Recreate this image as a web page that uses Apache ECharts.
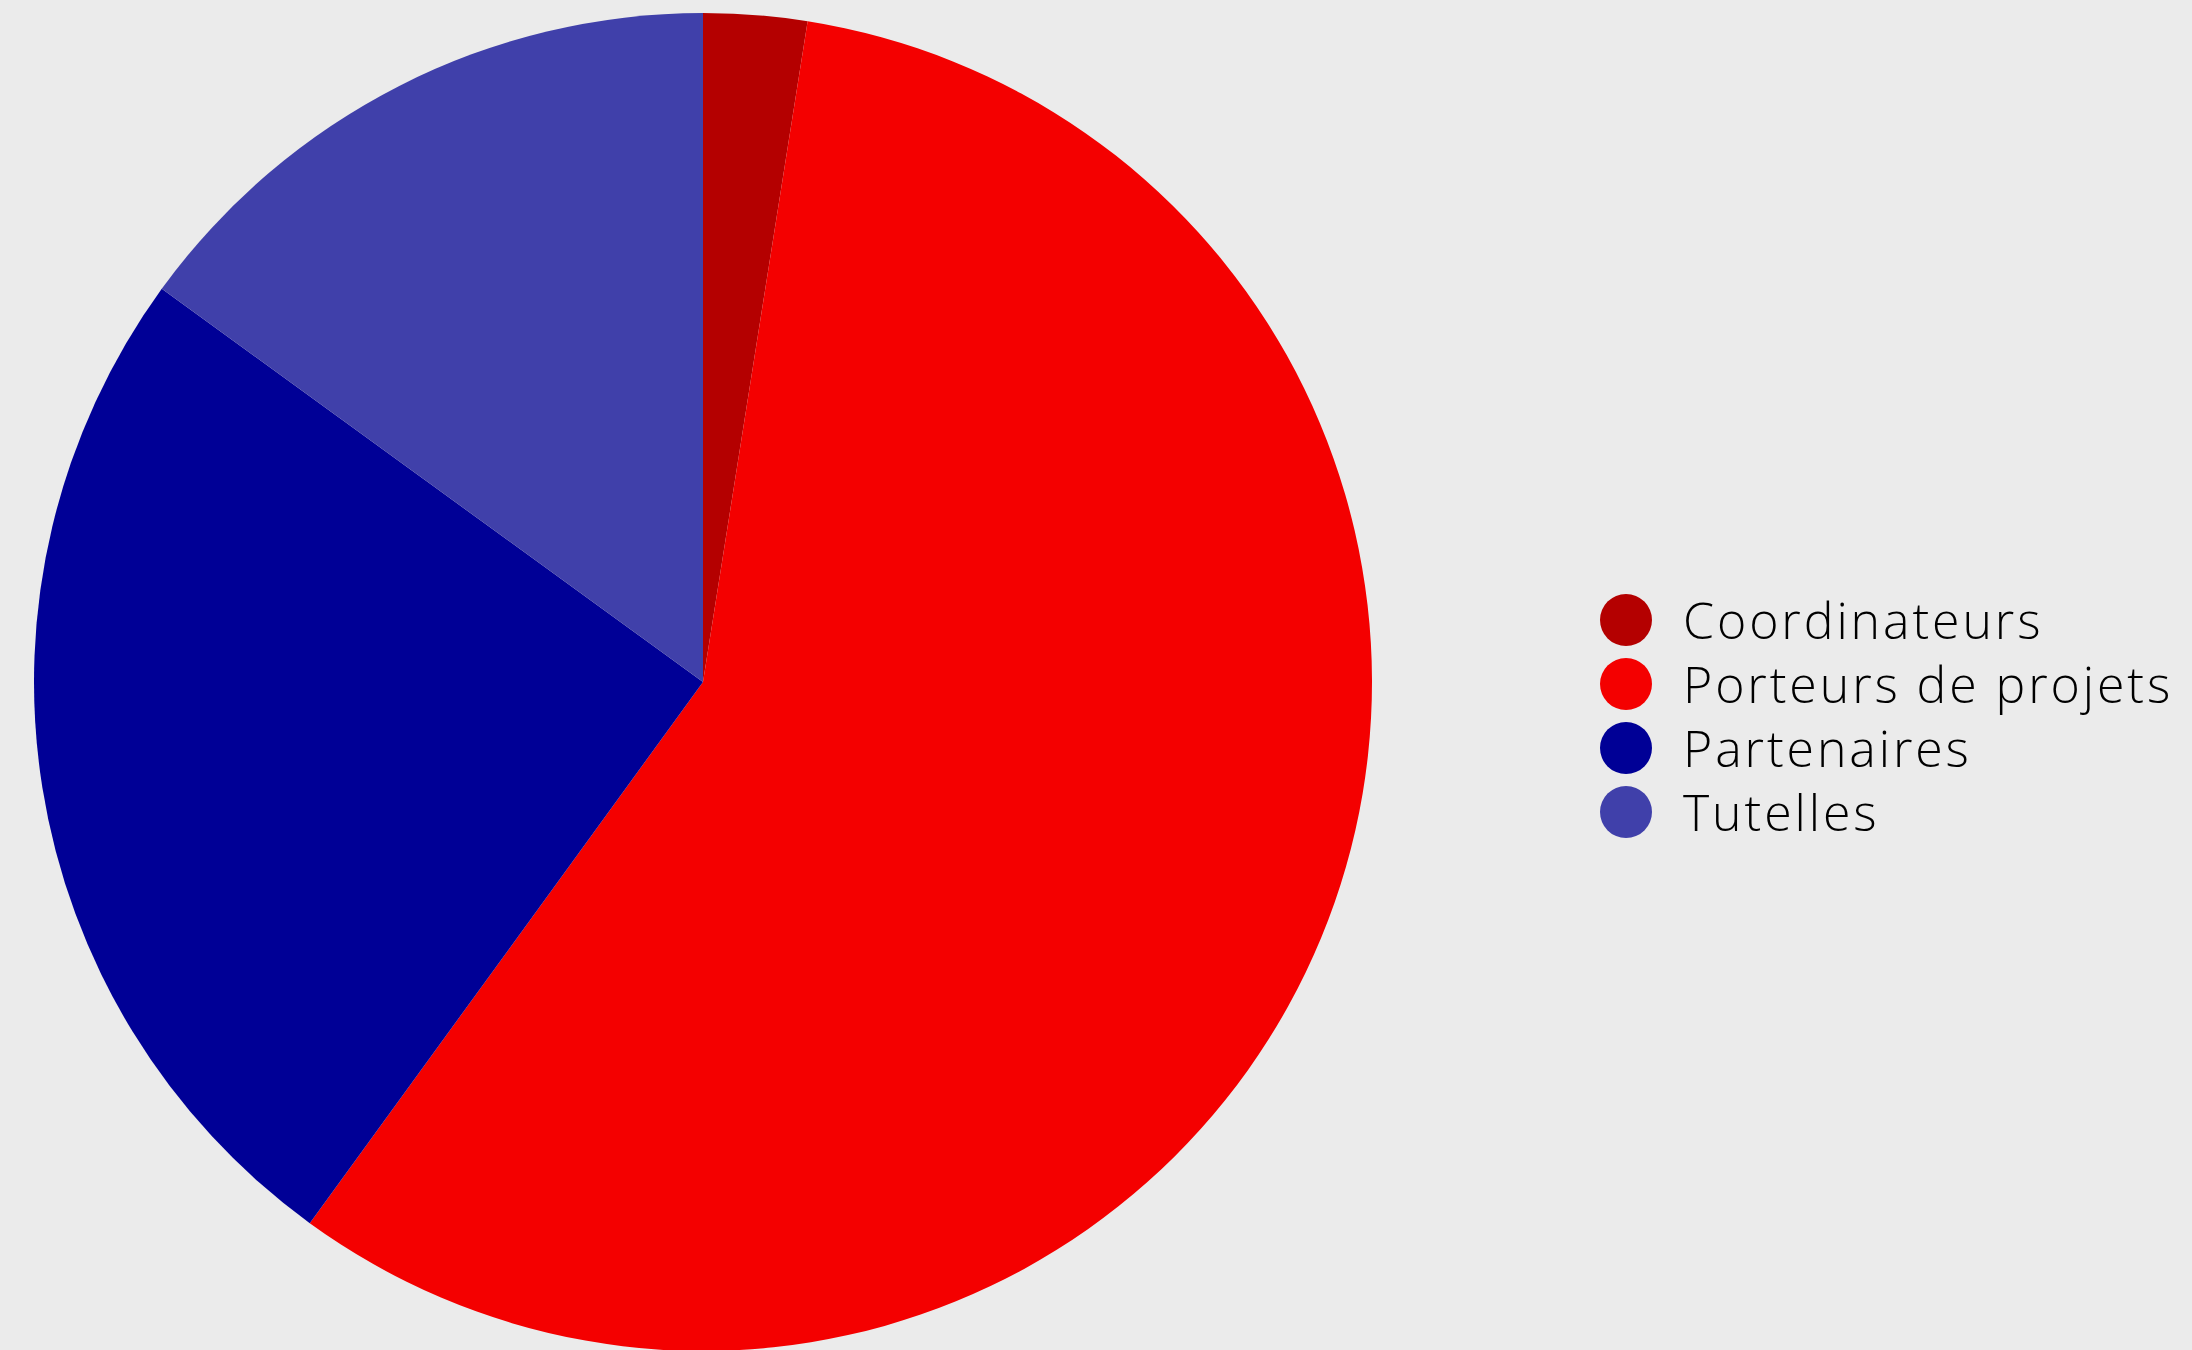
<!DOCTYPE html>
<html>
<head>
<meta charset="utf-8">
<script src="https://cdn.jsdelivr.net/npm/echarts@6/dist/echarts.min.js"></script>
<style>
html,body{margin:0;padding:0;background:#ebebeb;}
#chart{width:2192px;height:1350px;}
#chart svg text{letter-spacing:2.9px;}
</style>
</head>
<body>
<div id="chart"></div>
<script>
const categories = ["Coordinateurs", "Porteurs de projets", "Partenaires", "Tutelles"];
const values = [1, 23, 10, 6];
const colors = ["#b40000", "#f40000", "#000096", "#4040aa"];

const chart = echarts.init(document.getElementById('chart'), null, { renderer: 'svg' });
chart.setOption({
  backgroundColor: '#ebebeb',
  animation: false,
  legend: {
    orient: 'vertical',
    left: 1595,
    top: 589,
    itemWidth: 56,
    itemHeight: 52,
    itemGap: 12,
    icon: 'path://M0,50 A50,50 0 1,1 100,50 A50,50 0 1,1 0,50 Z',
    data: categories,
    textStyle: {
      fontFamily: 'Open Sans',
      fontWeight: 300,
      fontSize: 50,
      color: '#000',
      padding: [0, 0, 0, 24]
    }
  },
  series: [{
    type: 'pie',
    center: [703, 682],
    radius: 669,
    startAngle: 90,
    clockwise: true,
    label: { show: false },
    labelLine: { show: false },
    emphasis: { disabled: true },
    data: categories.map((c, i) => ({ name: c, value: values[i], itemStyle: { color: colors[i] } }))
  }]
});
</script>
</body>
</html>
